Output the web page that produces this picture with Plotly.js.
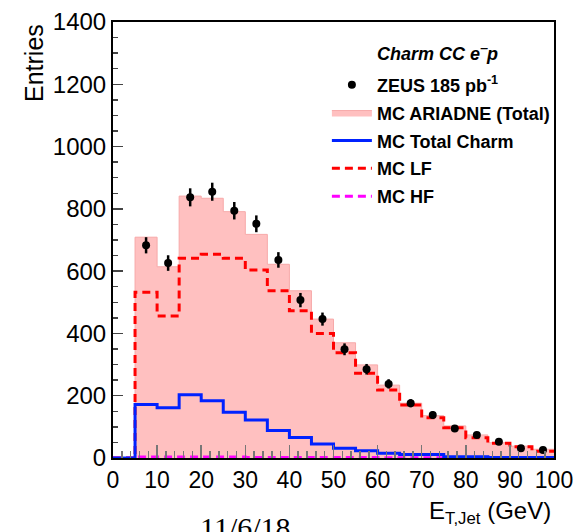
<!DOCTYPE html>
<html>
<head>
<meta charset="utf-8">
<script src="https://cdn.plot.ly/plotly-3.0.1.min.js"></script>
<style>html,body{margin:0;padding:0;background:#fff;}#chart{width:581px;height:532px;}</style>
</head>
<body>
<div id="chart"></div>
<script>
// Bin edges (GeV) and MC histograms (entries per bin)
const edges = [0,5,10,15,20,25,30,35,40,45,50,55,60,65,70,75,80,85,90,95,100];
const mcTotal = [0,709,614,841,834,791,718,622,537,446,370,299,234,176,136,103,74,49,38,28];
const mcLF    = [0,532,456,641,654,641,604,537,473,400,338,272,218,170,129,97,65,47,36,22];
const mcCharm = [0,172,161,203,184,147,122,88,66,45,31,23,15,11,11,4,4,2,2,2];
const mcHF    = [0,3,3,3,3,3,2,2,2,2,2,2,1,1,1,0,0,0,0,0];
// ZEUS data points
const dataX   = [7.5,12.5,17.5,22.5,27.5,32.5,37.5,42.5,47.5,52.5,57.5,62.5,67.5,72.5,77.5,82.5,87.5,92.5,97.5];
const dataY   = [683,626,837,855,794,752,636,507,446,349,285,238,176,138,95,74,52,31,26];
const dataErr = [26,25,29,29,28,27,25,23,21,19,17,15,13,12,10,9,7,6,5];
const xTicks = [0,10,20,30,40,50,60,70,80,90,100];
const yTicks = [0,200,400,600,800,1000,1200,1400];

function stepY(v){ return v.concat([v[v.length-1]]); }

const FONT = 'Liberation Sans, Arial, sans-serif';

const traces = [
  {x: edges, y: stepY(mcTotal), type:'scatter', mode:'lines', line:{shape:'hv', color:'#f7a9a9', width:1},
   fill:'tozeroy', fillcolor:'#ffc0c0', name:'MC ARIADNE (Total)', legendgroup:'b', legendrank:2},
  {x: edges, y: stepY(mcLF), type:'scatter', mode:'lines', line:{shape:'hv', color:'#ff0000', width:3, dash:'8px,5px'},
   name:'MC LF', legendgroup:'d', legendrank:4},
  {x: edges, y: stepY(mcHF), type:'scatter', mode:'lines', line:{shape:'hv', color:'#ff00ff', width:3, dash:'8px,5px'},
   name:'MC HF', legendgroup:'e', legendrank:5},
  {x: edges, y: stepY(mcCharm), type:'scatter', mode:'lines', line:{shape:'hv', color:'#0022ff', width:3},
   name:'MC Total Charm', legendgroup:'c', legendrank:3},
  {x: dataX, y: dataY, type:'scatter', mode:'markers', marker:{color:'#000', size:8},
   error_y:{type:'data', array:dataErr, visible:true, color:'#000', thickness:2.5, width:0},
   name:'ZEUS 185 pb<sup>-1</sup>', legendgroup:'a', legendrank:1}
];

const layout = {
  width:581, height:532,
  margin:{l:113, r:27, t:22, b:74},
  paper_bgcolor:'#fff', plot_bgcolor:'#fff',
  font:{family:FONT, color:'#000'},
  showlegend:true,
  legend:{x:0.485, xanchor:'left', y:0.898, yanchor:'top', bgcolor:'rgba(0,0,0,0)', itemwidth:40,
          font:{family:FONT, size:18, weight:'bold', color:'#000'}, tracegroupgap:1.5, traceorder:'grouped'},
  xaxis:{range:[0,100], tickvals:xTicks, ticktext:xTicks.map(String), ticks:'inside', ticklen:13, tickwidth:1.5, tickcolor:'#777',
         minor:{dtick:2, ticks:'inside', ticklen:7, tickwidth:1.5, tickcolor:'#777'},
         showgrid:false, zeroline:false, showline:true, linecolor:'#000', linewidth:2, mirror:true,
         tickfont:{family:FONT, size:23, color:'#000'}},
  yaxis:{range:[0,1400], tickvals:yTicks, ticktext:yTicks.map(String), ticks:'inside', ticklen:10, tickwidth:1.5, tickcolor:'#444',
         minor:{dtick:50, ticks:'inside', ticklen:5, tickwidth:1.5, tickcolor:'#444'},
         showgrid:false, zeroline:false, showline:true, linecolor:'#000', linewidth:2, mirror:true,
         tickfont:{family:FONT, size:24, color:'#000'}},
  annotations:[
    {text:'<b><i>Charm CC e<sup>\u2012</sup>p</i></b>', xref:'paper', yref:'paper', x:(375-113)/441, y:(458-52)/436,
     xanchor:'left', yanchor:'middle', showarrow:false, font:{family:FONT, size:18, color:'#000'}},
    {text:'Entries', xref:'paper', yref:'paper', x:(34-113)/441, y:(458-22)/436, textangle:-90,
     xanchor:'center', yanchor:'top', showarrow:false, font:{family:FONT, size:25, color:'#000'}},
    {text:'E<sub>T,Jet</sub> (GeV)', xref:'paper', yref:'paper', x:(553-113)/441, y:(458-512)/436,
     xanchor:'right', yanchor:'middle', showarrow:false, font:{family:FONT, size:24, color:'#000'}},
    {text:'11/6/18', xref:'paper', yref:'paper', x:(245-113)/441, y:(458-527)/436,
     xanchor:'center', yanchor:'middle', showarrow:false, font:{family:'Liberation Serif, Times New Roman, serif', size:30, color:'#000'}}
  ]
};

Plotly.newPlot('chart', traces, layout, {displayModeBar:false, staticPlot:true});
</script>
</body>
</html>
